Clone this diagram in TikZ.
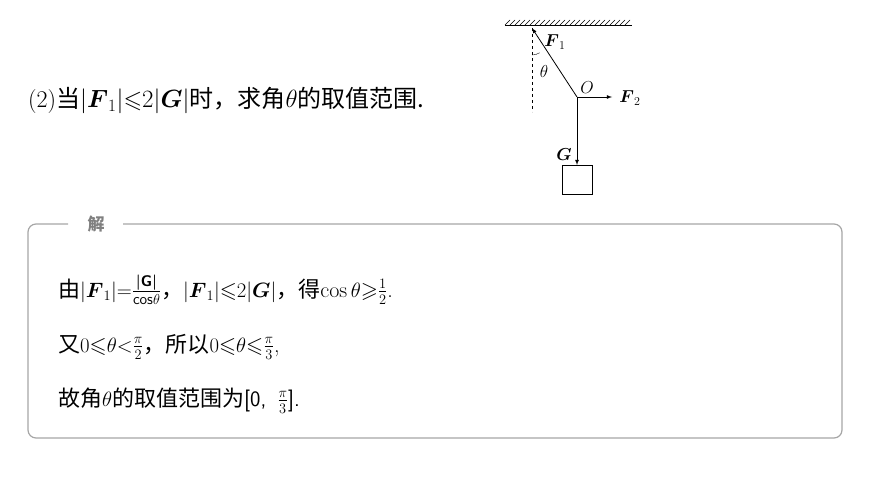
\documentclass[tikz,border=0pt]{standalone}
\usepackage{amsmath,amssymb}
\usepackage{fontspec}
\newfontfamily\cjk{Noto Sans CJK SC}
\usetikzlibrary{arrows,patterns}
\tikzstyle{force} = [->,>=latex,thick]
\tikzstyle{lbl} = [font=\fontsize{17}{17}\selectfont, inner sep=0pt]
\tikzstyle{line} = [font=\fontsize{22}{22}\selectfont, anchor=base west, inner sep=0pt]
\begin{document}
\begin{tikzpicture}[x=1pt,y=-1pt]
\useasboundingbox (0,0) rectangle (870,489);

    % question and sketch
    \node [line, font=\fontsize{24}{24}\selectfont] (question) at (28,108) {(2)\cjk 当\normalfont$|\boldsymbol{F}_1|{\leqslant}2|\boldsymbol{G}|$\cjk 时，求角\normalfont$\theta$\cjk 的取值范围.};

    \coordinate (top) at (532,28);
    \coordinate (O) at (577,97);
    \coordinate (right) at (612,97);
    \coordinate (down) at (577,165);
    \draw[thick] (505,25) -- (632,25);
    \foreach \x in {505,510,...,628} \draw (\x,25) -- (\x+5,20);
    \draw[dashed] (top) -- (532,112);
    \draw[force] (O) -- (top);
    \draw[force] (O) -- (right);
    \draw[force] (O) -- (down);
    \draw (532,55) arc (90:57:14);
    \node [draw, thick, minimum width=30pt, minimum height=29pt, anchor=north, inner sep=0pt] (box) at (down) {};
    \node [lbl] (f1) at (555,42) {$\boldsymbol{F}_1$};
    \node [lbl] (theta) at (544,72) {$\theta$};
    \node [lbl] (o) at (587,88) {$O$};
    \node [lbl] (f2) at (630,98) {$\boldsymbol{F}_2$};
    \node [lbl] (g) at (564,155) {$\boldsymbol{G}$};

    % answer frame
    \draw[gray!70, line width=1.2pt, rounded corners=8pt] (68,224) -- (28,224) -- (28,438) -- (842,438) -- (842,224) -- (123,224);
    \node [text=gray, font=\cjk\fontsize{17}{17}\selectfont\bfseries\itshape] (jie) at (96,224) {解};
    \node [line] (l1) at (58,297) {\cjk 由\normalfont$|\boldsymbol{F}_1|{=}\frac{\text{\sffamily\bfseries |G|}}{\text{\sffamily cos}\theta}$\cjk ，\normalfont$|\boldsymbol{F}_1|{\leqslant}2|\boldsymbol{G}|$\cjk ，得\normalfont$\cos\theta{\geqslant}\frac{1}{2}$.};
    \node [line] (l2) at (58,352) {\cjk 又\normalfont$0{\leqslant}\theta{<}\frac{\pi}{2}$\cjk ，所以\normalfont$0{\leqslant}\theta{\leqslant}\frac{\pi}{3}$,};
    \node [line] (l3) at (58,406) {\cjk 故角\normalfont$\theta$\cjk 的取值范围为\sffamily[0,\enspace$\frac{\pi}{3}$].};
\end{tikzpicture}
\end{document}
